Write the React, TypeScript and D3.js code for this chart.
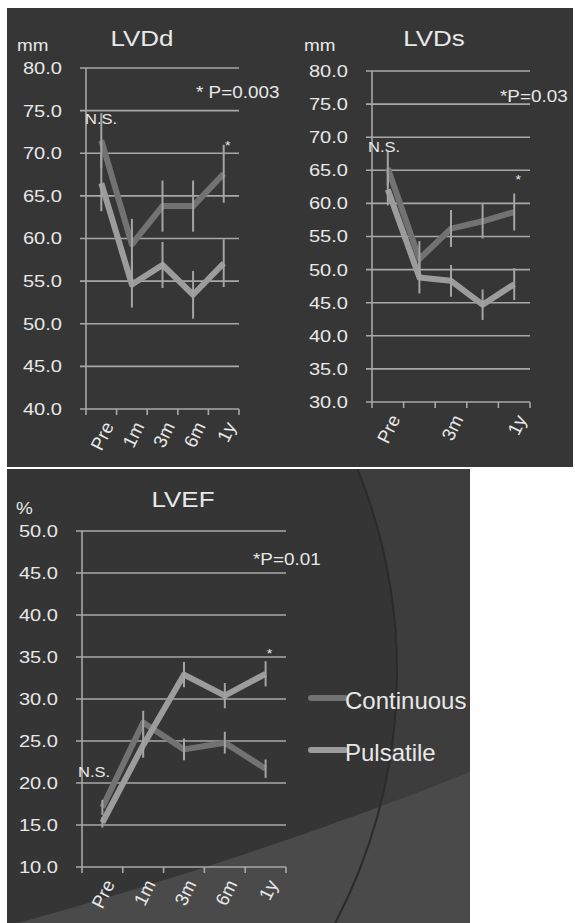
import * as d3 from "d3";

const categories = ["Pre", "1m", "3m", "6m", "1y"];

const lvddTicks = [40, 45, 50, 55, 60, 65, 70, 75, 80];
const lvddLabels = ["Pre", "1m", "3m", "6m", "1y"];
const lvddContinuous = [71.5, 59.3, 63.8, 63.8, 67.6];
const lvddContinuousErr = [3.2, 3.0, 3.0, 3.0, 3.4];
const lvddPulsatile = [66.5, 54.6, 56.9, 53.4, 57.1];
const lvddPulsatileErr = [3.3, 2.7, 2.7, 2.8, 2.8];

const lvdsTicks = [30, 35, 40, 45, 50, 55, 60, 65, 70, 75, 80];
const lvdsLabels = ["Pre", "", "3m", "", "1y"];
const lvdsContinuous = [65.3, 51.6, 56.2, 57.3, 58.7];
const lvdsContinuousErr = [2.6, 2.7, 2.8, 2.6, 2.8];
const lvdsPulsatile = [62.1, 48.8, 48.3, 44.7, 47.8];
const lvdsPulsatileErr = [2.4, 2.4, 2.4, 2.3, 2.4];

const lvefTicks = [10, 15, 20, 25, 30, 35, 40, 45, 50];
const lvefLabels = ["Pre", "1m", "3m", "6m", "1y"];
const lvefContinuous = [17.1, 27.2, 24.0, 24.8, 21.7];
const lvefContinuousErr = [0.9, 1.4, 1.3, 1.3, 1.1];
const lvefPulsatile = [15.3, 24.5, 32.9, 30.4, 33.0];
const lvefPulsatileErr = [0.6, 1.5, 1.5, 1.5, 1.5];

const seriesNames = ["Continuous", "Pulsatile"];

const FONT = "'Liberation Sans', Arial, Helvetica, sans-serif";
const STRETCH = 1.18;
const TEXT = "#e8e8e8";
const GRID = "#a8a8a8";
const CONT = "#727272";
const PULS = "#9c9c9c";
const ERR = "#a4a4a4";

type TProps = {
  x: number;
  y: number;
  size: number;
  anchor?: "start" | "middle" | "end";
  stretch?: number;
  children: React.ReactNode;
};

function T({ x, y, size, anchor = "start", stretch = STRETCH, children }: TProps) {
  return (
    <text
      transform={`translate(${x},${y}) scale(${stretch},1)`}
      fontSize={size}
      textAnchor={anchor}
      dominantBaseline="central"
      fill={TEXT}
      fontFamily={FONT}
    >
      {children}
    </text>
  );
}

type PanelProps = {
  title: string;
  titleX: number;
  titleY: number;
  unit: string;
  unitX: number;
  unitY: number;
  yDomain: [number, number];
  yRange: [number, number];
  xRange: [number, number];
  ticks: number[];
  labels: string[];
  cont: number[];
  contErr: number[];
  puls: number[];
  pulsErr: number[];
  pText: string;
  pX: number;
  pY: number;
  nsX: number;
  nsY: number;
  starY: number;
};

function Panel(p: PanelProps) {
  const x = d3.scaleBand<string>().domain(categories).range(p.xRange);
  const y = d3.scaleLinear().domain(p.yDomain).range(p.yRange);
  const cx = (c: string) => (x(c) ?? 0) + x.bandwidth() / 2;
  const [x0, x1] = p.xRange;
  const yb = y(p.yDomain[0]);
  const yt = y(p.yDomain[1]);

  const line = d3
    .line<number>()
    .x((_, i) => cx(categories[i]))
    .y((d) => y(d));

  const errBars = (vals: number[], errs: number[]) =>
    vals.map((v, i) => (
      <line
        key={i}
        x1={cx(categories[i])}
        x2={cx(categories[i])}
        y1={y(v + errs[i])}
        y2={y(v - errs[i])}
        stroke={ERR}
        strokeWidth={2}
      />
    ));

  const edges = categories.map((c) => x(c) ?? 0).concat([x1]);

  return (
    <g>
      <T x={p.titleX} y={p.titleY} size={22} anchor="middle">
        {p.title}
      </T>
      <T x={p.unitX} y={p.unitY} size={16}>
        {p.unit}
      </T>
      {p.ticks.map((t) => (
        <g key={t}>
          <line x1={x0 - 6} x2={x1} y1={y(t)} y2={y(t)} stroke={GRID} strokeWidth={1.6} />
          <T x={x0 - 24} y={y(t)} size={17} anchor="end">
            {t.toFixed(1)}
          </T>
        </g>
      ))}
      <line x1={x0} x2={x0} y1={yt} y2={yb} stroke={GRID} strokeWidth={1.6} />
      {edges.map((e, i) => (
        <line key={i} x1={e} x2={e} y1={yb} y2={yb + 6} stroke={GRID} strokeWidth={1.6} />
      ))}
      {categories.map((c, i) =>
        p.labels[i] ? (
          <text
            key={c}
            transform={`translate(${cx(c) + 7},${yb + 14}) rotate(-64)`}
            fontSize={18.5}
            textAnchor="end"
            dominantBaseline="central"
            fill={TEXT}
            fontFamily={FONT}
          >
            {p.labels[i]}
          </text>
        ) : null
      )}
      <path d={line(p.cont) ?? ""} fill="none" stroke={CONT} strokeWidth={6} strokeLinejoin="round" />
      <path d={line(p.puls) ?? ""} fill="none" stroke={PULS} strokeWidth={6} strokeLinejoin="round" />
      {errBars(p.cont, p.contErr)}
      {errBars(p.puls, p.pulsErr)}
      <T x={p.nsX} y={p.nsY} size={14}>
        N.S.
      </T>
      <T x={p.pX} y={p.pY} size={16}>
        {p.pText}
      </T>
      <T x={cx(categories[4]) + 4} y={p.starY} size={12} anchor="middle">
        *
      </T>
    </g>
  );
}

export default function App() {
  return (
    <svg
      width={575}
      height={923}
      style={{ position: "absolute", left: 0, top: 0, background: "#fff" }}
    >
      <defs>
        <clipPath id="bottomClip">
          <rect x={7} y={469} width={463} height={454} />
        </clipPath>
      </defs>
      <rect x={7} y={8} width={566} height={459} fill="#363636" />
      <g clipPath="url(#bottomClip)">
        <rect x={7} y={469} width={463} height={454} fill="#3d3d3d" />
        <circle cx={-143} cy={672} r={540} fill="#353535" />
        <path d="M 0 928 Q 250 860 475 770 L 475 930 Z" fill="#4a4a4a" />
        <circle cx={-143} cy={672} r={540} fill="none" stroke="#2b2b2b" strokeWidth={2} />
      </g>

      <Panel
        title="LVDd"
        titleX={142}
        titleY={38}
        unit="mm"
        unitX={17}
        unitY={46}
        yDomain={[40, 80]}
        yRange={[409, 68]}
        xRange={[86, 239]}
        ticks={lvddTicks}
        labels={lvddLabels}
        cont={lvddContinuous}
        contErr={lvddContinuousErr}
        puls={lvddPulsatile}
        pulsErr={lvddPulsatileErr}
        pText="*  P=0.003"
        pX={196}
        pY={93}
        nsX={85}
        nsY={119}
        starY={146}
      />
      <Panel
        title="LVDs"
        titleX={434}
        titleY={38}
        unit="mm"
        unitX={304}
        unitY={46}
        yDomain={[30, 80]}
        yRange={[402, 71]}
        xRange={[372, 530]}
        ticks={lvdsTicks}
        labels={lvdsLabels}
        cont={lvdsContinuous}
        contErr={lvdsContinuousErr}
        puls={lvdsPulsatile}
        pulsErr={lvdsPulsatileErr}
        pText="*P=0.03"
        pX={500}
        pY={97}
        nsX={368}
        nsY={147}
        starY={180}
      />
      <Panel
        title="LVEF"
        titleX={183}
        titleY={499}
        unit="%"
        unitX={16}
        unitY={509}
        yDomain={[10, 50]}
        yRange={[867, 531]}
        xRange={[82, 286]}
        ticks={lvefTicks}
        labels={lvefLabels}
        cont={lvefContinuous}
        contErr={lvefContinuousErr}
        puls={lvefPulsatile}
        pulsErr={lvefPulsatileErr}
        pText="*P=0.01"
        pX={253}
        pY={560}
        nsX={78}
        nsY={772}
        starY={654}
      />

      {seriesNames.map((name, i) => (
        <g key={name}>
          <line
            x1={311}
            x2={345}
            y1={698 + i * 52}
            y2={698 + i * 52}
            stroke={i === 0 ? CONT : PULS}
            strokeWidth={6}
            strokeLinecap="round"
          />
          <T x={345} y={700 + i * 52} size={24} stretch={1}>
            {name}
          </T>
        </g>
      ))}
    </svg>
  );
}
